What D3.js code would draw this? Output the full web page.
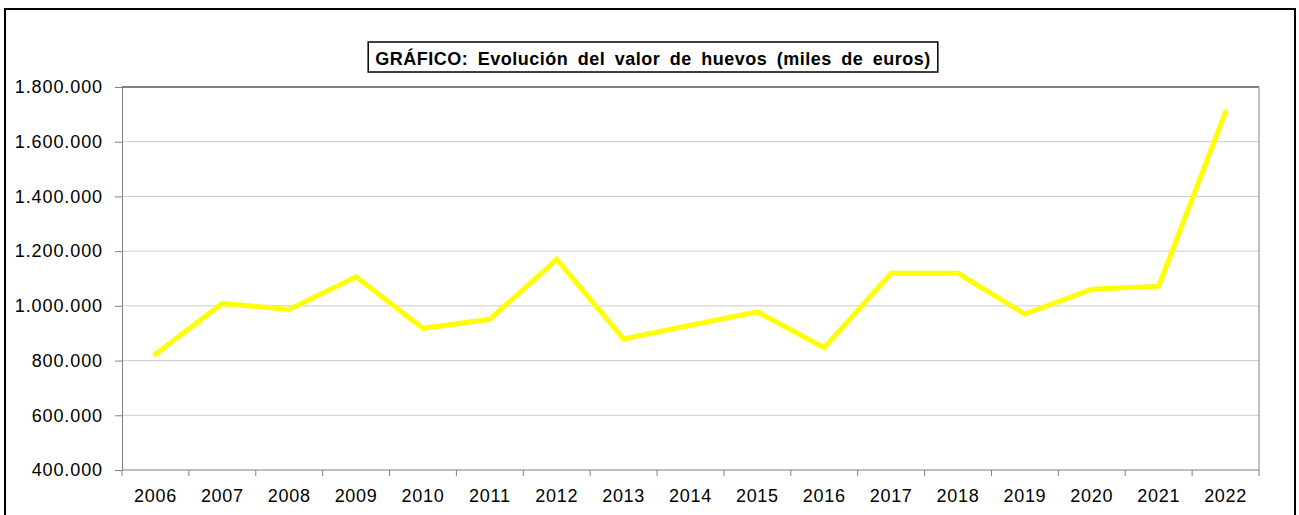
<!DOCTYPE html>
<html>
<head>
<meta charset="utf-8">
<script src="https://cdn.jsdelivr.net/npm/d3@7"></script>
<style>
  html, body { margin: 0; padding: 0; background: #fff; }
  svg { display: block; font-family: "Liberation Sans", Arial, sans-serif; }
</style>
</head>
<body>
<svg id="chart" width="1299" height="515"></svg>
<script>
// Valor de la producción de huevos, miles de euros
const years = ["2006","2007","2008","2009","2010","2011","2012","2013","2014","2015","2016","2017","2018","2019","2020","2021","2022"];
const values = [823000, 1009000, 987000, 1106000, 918000, 951000, 1170000, 879000, 929000, 978000, 847000, 1119000, 1119000, 970000, 1061000, 1072000, 1709000];
const yTicks = [400000, 600000, 800000, 1000000, 1200000, 1400000, 1600000, 1800000];
const title = "GRÁFICO: Evolución del valor de huevos (miles de euros)";

const svg = d3.select("#chart");
const plot = { left: 122, right: 1259, top: 87, bottom: 470 };

// Outer frame
svg.append("rect")
  .attr("x", 5).attr("y", 9).attr("width", 1290).attr("height", 520)
  .attr("fill", "#fff").attr("stroke", "#000").attr("stroke-width", 2);

const x = d3.scaleBand().domain(years).range([plot.left, plot.right]);
const y = d3.scaleLinear().domain([400000, 1800000]).range([plot.bottom, plot.top]);

const fmt = v => d3.format(",")(v).replace(/,/g, ".");

// Gridlines
svg.append("g")
  .selectAll("line")
  .data(yTicks.filter(t => t > 400000 && t < 1800000))
  .join("line")
  .attr("x1", plot.left).attr("x2", plot.right)
  .attr("y1", d => y(d)).attr("y2", d => y(d))
  .attr("stroke", "#cccccc").attr("stroke-width", 1);

// Plot area border
svg.append("line").attr("x1", plot.left).attr("x2", plot.right)
  .attr("y1", plot.top).attr("y2", plot.top).attr("stroke", "#000");
svg.append("line").attr("x1", plot.right).attr("x2", plot.right)
  .attr("y1", plot.top).attr("y2", plot.bottom).attr("stroke", "#808080");

// Y axis
const yAxis = svg.append("g")
  .attr("transform", `translate(${plot.left},0)`)
  .call(d3.axisLeft(y).tickValues(yTicks).tickFormat(fmt).tickSize(7).tickPadding(12));
yAxis.select(".domain").attr("stroke", "#808080");
yAxis.selectAll(".tick line").attr("stroke", "#808080");
yAxis.selectAll("text").attr("font-size", 18).attr("fill", "#000")
  .attr("letter-spacing", 0.9)
  .attr("font-family", "'Liberation Sans', Arial, sans-serif");

// X axis with ticks between categories
const xAxis = svg.append("g").attr("transform", `translate(0,${plot.bottom})`);
xAxis.append("line").attr("x1", plot.left).attr("x2", plot.right)
  .attr("y1", 0).attr("y2", 0).attr("stroke", "#808080");
const bounds = years.map(d => x(d)).concat([plot.right]);
xAxis.selectAll("line.tk").data(bounds).join("line").attr("class", "tk")
  .attr("x1", d => d).attr("x2", d => d).attr("y1", 0).attr("y2", 6)
  .attr("stroke", "#808080");
xAxis.selectAll("text").data(years).join("text")
  .attr("x", d => x(d) + x.bandwidth() / 2)
  .attr("y", 32)
  .attr("text-anchor", "middle")
  .attr("font-size", 18).attr("fill", "#000")
  .attr("letter-spacing", 0.7)
  .text(d => d);

// Data line
const line = d3.line()
  .x((d, i) => x(years[i]) + x.bandwidth() / 2)
  .y(d => y(d));
svg.append("path")
  .datum(values)
  .attr("d", line)
  .attr("fill", "none")
  .attr("stroke", "#ffff00")
  .attr("stroke-width", 5)
  .attr("stroke-linejoin", "miter")
  .attr("stroke-linecap", "round");

// Title box
const tg = svg.append("g");
const tt = tg.append("text")
  .attr("x", 653).attr("y", 65)
  .attr("text-anchor", "middle")
  .attr("font-size", 18).attr("font-weight", "bold").attr("fill", "#000")
  .attr("letter-spacing", 0.5).attr("word-spacing", 4)
  .text(title);
const bb = tt.node().getBBox();
tg.insert("rect", "text")
  .attr("x", bb.x - 7).attr("y", 42)
  .attr("width", bb.width + 14).attr("height", 30)
  .attr("fill", "#fff").attr("stroke", "#000").attr("stroke-width", 1.5);
</script>
</body>
</html>
